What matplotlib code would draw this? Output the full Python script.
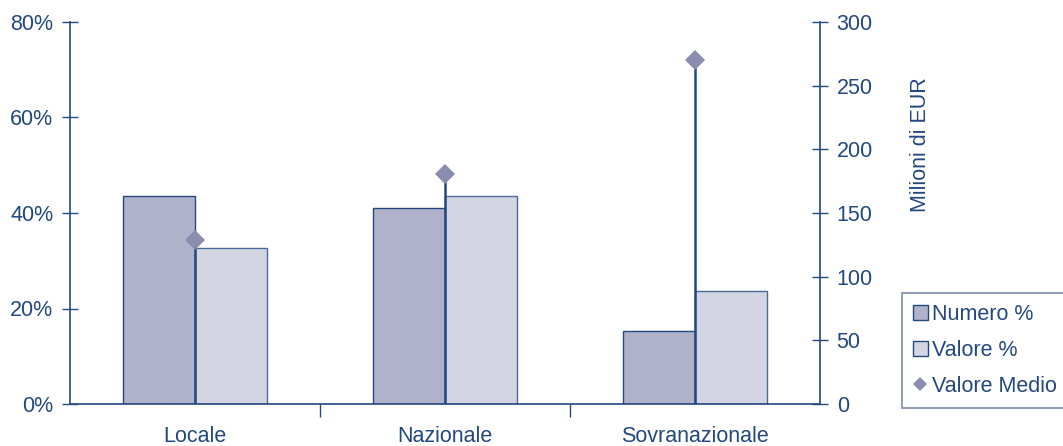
import matplotlib
matplotlib.use("Agg")
import matplotlib.pyplot as plt
from matplotlib.lines import Line2D
from matplotlib.patches import Patch

plt.rcParams['font.family'] = ['Liberation Sans', 'DejaVu Sans']

categories = ["Locale", "Nazionale", "Sovranazionale"]
numero_pct = [43.6, 41.0, 15.3]
valore_pct = [32.7, 43.6, 23.7]
valore_medio = [129, 181, 270]

dark = "#23487f"
c_numero = "#b0b2cc"
c_valore = "#d3d5e2"
c_medio = "#8a8db0"
fs = 15.5

fig = plt.figure(figsize=(10.63, 4.46), dpi=100)
ax = fig.add_axes([70 / 1063, 42 / 446, 750 / 1063, 382 / 446])
ax2 = ax.twinx()

x = list(range(len(categories)))
w = 0.288
ax.bar([i - w / 2 for i in x], numero_pct, width=w, color=c_numero,
       edgecolor=dark, linewidth=1.0, zorder=2)
ax.bar([i + w / 2 for i in x], valore_pct, width=w, color=c_valore,
       edgecolor="#4a6a98", linewidth=1.0, zorder=2)

ax2.vlines(x, 0, valore_medio, color=dark, linewidth=1.8, zorder=3)
ax2.plot(x, valore_medio, linestyle="none", marker="D", markersize=10.5,
         color=c_medio, markeredgewidth=0, zorder=4)

ax.set_xlim(-0.5, 2.5)
ax.set_ylim(0, 80)
ax2.set_ylim(0, 300)

ax.set_yticks([0, 20, 40, 60, 80])
ax.set_yticklabels(["0%", "20%", "40%", "60%", "80%"])
ax2.set_yticks([0, 50, 100, 150, 200, 250, 300])

ax.set_xticks([0.5, 1.5])
ax.set_xticklabels([])
ax.set_xticks(x, minor=True)
ax.set_xticklabels(categories, minor=True)
ax.tick_params(axis="x", which="major", direction="out", length=9,
               width=1.0, color=dark)
ax.tick_params(axis="x", which="minor", length=0, pad=16,
               labelsize=fs, labelcolor=dark)
ax.tick_params(axis="y", direction="inout", length=12, width=1.0,
               color=dark, labelsize=fs, labelcolor=dark, pad=6)
ax2.tick_params(axis="y", direction="inout", length=12, width=1.0,
                color=dark, labelsize=fs, labelcolor=dark, pad=6)

for a in (ax, ax2):
    a.spines["top"].set_visible(False)
    for s in ("left", "right", "bottom"):
        a.spines[s].set_color(dark)
        a.spines[s].set_linewidth(1.2)
ax.spines["right"].set_visible(False)
ax2.spines["left"].set_visible(False)
ax2.spines["bottom"].set_visible(False)

fig.text(920 / 1063, 1 - 145 / 446, "Milioni di EUR", rotation=90,
         ha="center", va="center", fontsize=fs, color=dark)

handles = [
    Patch(facecolor=c_numero, edgecolor=dark, linewidth=1.0, label="Numero %"),
    Patch(facecolor=c_valore, edgecolor=dark, linewidth=1.0, label="Valore %"),
    Line2D([], [], linestyle="none", marker="D", markersize=7,
           color=c_medio, markeredgewidth=0, label="Valore Medio"),
]
leg = fig.legend(handles=handles, loc="upper left",
                 bbox_to_anchor=(902 / 1063, 1 - 293 / 446),
                 frameon=True, fancybox=False, fontsize=fs,
                 handlelength=0.7, handleheight=0.7, handletextpad=0.2,
                 labelspacing=0.7, borderpad=0.5, borderaxespad=0)
leg.get_frame().set_edgecolor("#5a6f96")
leg.get_frame().set_linewidth(1.2)
for t in leg.get_texts():
    t.set_color(dark)

fig.savefig("out.png", dpi=100)
